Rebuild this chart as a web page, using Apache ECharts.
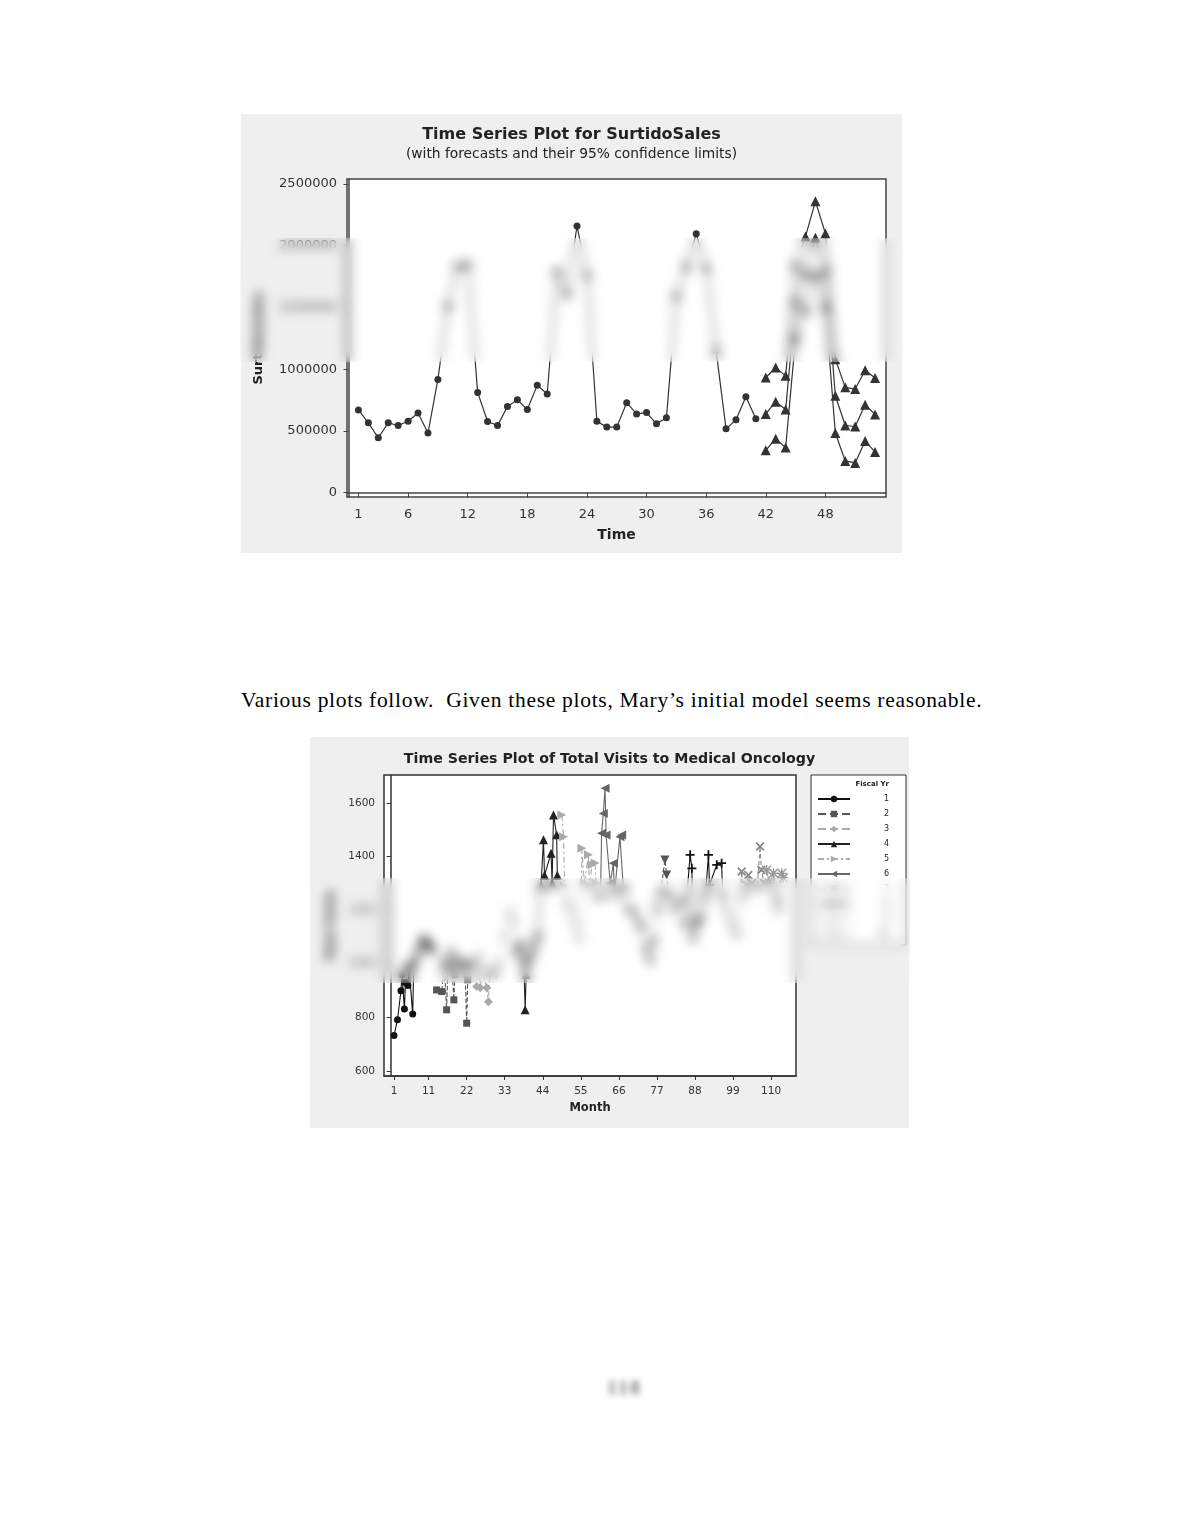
<!DOCTYPE html>
<html>
<head>
<meta charset="utf-8">
<script src="https://cdn.jsdelivr.net/npm/echarts@6/dist/echarts.min.js"></script>
<style>
body {
    margin: 0;
    width: 1180px;
    height: 1527px;
    background: #fff;
    position: relative;
    overflow: hidden;
}
#sales {
    position: absolute;
    left: 241px;
    top: 114px;
    width: 661px;
    height: 439px;
}
#visits {
    position: absolute;
    left: 310px;
    top: 737px;
    width: 599px;
    height: 391px;
}
#note {
    position: absolute;
    left: 241px;
    top: 688px;
    font-family: "Liberation Serif", serif;
    font-size: 21.5px;
    letter-spacing: 0.7px;
    line-height: 24px;
    color: #000;
    white-space: nowrap;
}
#pageno {
    position: absolute;
    left: 600px;
    top: 1378px;
    width: 50px;
    text-align: center;
    font-family: "Liberation Serif", serif;
    font-size: 18px;
    font-weight: bold;
    letter-spacing: 3px;
    color: #666;
}
.blur {
    position: absolute;
    backdrop-filter: blur(6px);
    -webkit-backdrop-filter: blur(6px);
    background: rgba(255, 255, 255, 0.05);
}
</style>
</head>
<body>
<div id="sales"></div>
<div id="note">Various plots follow.&nbsp; Given these plots, Mary’s initial model seems reasonable.</div>
<div id="visits"></div>
<div id="pageno">118</div>
<div class="blur" style="left:240px;top:238px;width:663px;height:124px;"></div>
<div class="blur" style="left:310px;top:878px;width:600px;height:105px;"></div>
<div class="blur" style="left:598px;top:1376px;width:54px;height:26px;backdrop-filter:blur(3px);-webkit-backdrop-filter:blur(3px);"></div>
<script>
// SurtidoSales, periods 1..41
var salesActual = [670000, 566000, 445000, 566000, 544000, 579000, 646000, 483000, 917000, 1509000,
    1831000, 1845000, 812000, 577000, 544000, 697000, 753000, 673000, 871000, 799000,
    1791000, 1603000, 2160000, 1760000, 579000, 531000, 531000, 729000, 638000, 649000,
    558000, 606000, 1590000, 1830000, 2097000, 1818000, 1150000, 517000, 590000, 777000,
    598000];
// forecasts, periods 42..53
var forecastStart = 42;
var salesForecast = [638000, 737000, 673000, 1550000, 1780000, 2064000, 1804000, 785000, 544000, 536000, 713000, 633000];
var salesLower = [343000, 437000, 365000, 1255000, 1485000, 1769000, 1509000, 483000, 257000, 241000, 418000, 330000];
var salesUpper = [933000, 1013000, 946000, 1845000, 2075000, 2359000, 2099000, 1080000, 853000, 839000, 992000, 928000];
var timeTicks = [1, 6, 12, 18, 24, 30, 36, 42, 48];
var salesTicks = [0, 500000, 1000000, 1500000, 2000000, 2500000];

// Total visits by month, one array per fiscal year: [month, visits]
var fy1 = [[1, 732], [2, 791], [3, 899], [3.3, 960], [4, 831], [4.3, 930], [5, 919], [5.3, 990], [6.4, 812], [6.7, 1000], [8, 1040], [9, 1080], [10, 1090], [11, 1070], [12, 1050]];
var fy2 = [[13.3, 902], [14.8, 896], [15.5, 1000], [16.2, 828], [16.6, 990], [17.5, 1040], [18.3, 865], [18.6, 960], [19.5, 1010], [20.5, 1000], [21.5, 990], [22, 778], [22.3, 940], [23.5, 1000]];
var fy3 = [[24.9, 915], [25.5, 1030], [25.9, 910], [26.5, 975], [27.8, 910], [28.3, 858], [28.6, 960], [29.5, 980], [30.5, 960], [31.5, 1000], [33, 1100], [34.5, 1193], [35.5, 1150]];
var fy4 = [[36.5, 1050], [37.5, 1080], [38.5, 1010], [38.9, 828], [39.2, 960], [40.5, 1030], [41.5, 1070], [42.5, 1110], [43.5, 1294], [44.2, 1462], [44.5, 1330], [46.4, 1412], [46.7, 1300], [47.1, 1555], [48, 1481], [48.2, 1330]];
var fy5 = [[49.5, 1555], [50, 1474], [50.3, 1290], [51.5, 1230], [52.5, 1200], [53.5, 1150], [55, 1096], [55.3, 1431], [56, 1300], [57.2, 1406], [57.5, 1290], [58.2, 1369], [59.1, 1376], [59.4, 1300], [60, 1250]];
var fy6 = [[60.7, 1250], [61, 1487], [61.5, 1560], [62, 1655], [62.3, 1480], [63.5, 1300], [64.4, 1375], [64.7, 1260], [66.3, 1474], [66.8, 1480], [67.3, 1280], [68.5, 1200], [70, 1193], [71.5, 1150]];
var fy7 = [[72.5, 1130], [74, 1050], [75, 1007], [76, 1080], [77, 1200], [78, 1257], [79.3, 1387], [79.8, 1331], [80.5, 1250], [82, 1200], [84, 1230]];
var fy8 = [[85, 1150], [86.6, 1406], [87.1, 1356], [87.4, 1096], [88.5, 1150], [89.5, 1171], [91, 1250], [91.9, 1406], [92.2, 1294], [94.3, 1369], [95.7, 1375], [96, 1250]];
var fy9 = [[97, 1200], [98.5, 1150], [100, 1107], [101.5, 1344], [102, 1250], [103, 1294], [103.4, 1331], [104.5, 1300], [106, 1280], [106.8, 1437], [107.2, 1350], [108, 1300]];
var fy10 = [[108.7, 1350], [109.5, 1300], [110.7, 1337], [111.5, 1250], [112, 1208], [113.1, 1337], [113.5, 1320]];
var fiscalYears = ['1', '2', '3', '4', '5', '6', '7', '8', '9', '10'];
var monthTicks = [1, 11, 22, 33, 44, 55, 66, 77, 88, 99, 110];
var visitTicks = [600, 800, 1000, 1200, 1400, 1600];

var font = 'DejaVu Sans';
var ink = '#333';
function plain(v) { return String(v); }

// ---- top chart ----
var sales = echarts.init(document.getElementById('sales'));
var actualData = salesActual.map(function (v, i) { return [i + 1, v]; });
function fc(arr) {
    return arr.map(function (v, i) { return [forecastStart + i, v]; });
}
function fcSeries(name, arr) {
    return {
        name: name,
        type: 'line',
        data: fc(arr),
        symbol: 'triangle',
        symbolSize: 10,
        itemStyle: { color: ink },
        lineStyle: { color: ink, width: 1.2 }
    };
}
sales.setOption({
    backgroundColor: '#efefef',
    animation: false,
    title: {
        text: 'Time Series Plot for SurtidoSales',
        subtext: '(with forecasts and their 95% confidence limits)',
        left: 'center',
        top: 8,
        itemGap: 4,
        textStyle: { fontFamily: font, fontSize: 16, fontWeight: 'bold', color: '#222' },
        subtextStyle: { fontFamily: font, fontSize: 13.8, color: '#222' }
    },
    grid: {
        left: 106, right: 16, top: 65, bottom: 56,
        show: true, backgroundColor: '#fff', borderColor: '#444', borderWidth: 1.5
    },
    xAxis: {
        type: 'value',
        min: -0.15,
        max: 54.1,
        name: 'Time',
        nameLocation: 'middle',
        nameGap: 31,
        nameTextStyle: { fontFamily: font, fontSize: 14, fontWeight: 'bold', color: '#222' },
        axisLine: { lineStyle: { color: '#444', width: 1.5 } },
        axisTick: { customValues: timeTicks, length: 5, lineStyle: { color: '#444' } },
        axisLabel: { customValues: timeTicks, fontFamily: font, fontSize: 13, color: '#333', margin: 11 },
        splitLine: { show: false }
    },
    yAxis: {
        type: 'value',
        min: -34800,
        max: 2540000,
        name: 'SurtidoSales',
        nameLocation: 'middle',
        nameGap: 82,
        nameTextStyle: { fontFamily: font, fontSize: 13, fontWeight: 'bold', color: '#222' },
        axisLine: { show: true, lineStyle: { color: '#444', width: 1.5 } },
        axisTick: { show: true, customValues: salesTicks, length: 5, lineStyle: { color: '#444' } },
        axisLabel: { customValues: salesTicks, formatter: plain, fontFamily: font, fontSize: 13, color: '#333', margin: 10 },
        splitLine: { show: false }
    },
    series: [
        {
            name: 'SurtidoSales',
            type: 'line',
            data: actualData,
            symbol: 'circle',
            symbolSize: 7,
            itemStyle: { color: ink },
            lineStyle: { color: ink, width: 1.2 }
        },
        fcSeries('Forecast', salesForecast),
        fcSeries('Lower', salesLower),
        fcSeries('Upper', salesUpper)
    ]
});

// ---- bottom chart ----
var visits = echarts.init(document.getElementById('visits'));
var yearData = [fy1, fy2, fy3, fy4, fy5, fy6, fy7, fy8, fy9, fy10];
var yearStyle = [
    { color: '#111', symbol: 'circle', size: 7, type: 'solid' },
    { color: '#555', symbol: 'rect', size: 7, type: 'dashed' },
    { color: '#aaa', symbol: 'diamond', size: 9, type: 'dashed' },
    { color: '#222', symbol: 'triangle', size: 9, type: 'solid' },
    { color: '#aaa', symbol: 'path://M0,0L10,5L0,10Z', size: 9, type: [6, 3, 2, 3] },
    { color: '#666', symbol: 'path://M10,0L0,5L10,10Z', size: 9, type: 'solid' },
    { color: '#555', symbol: 'path://M0,0L10,0L5,10Z', size: 9, type: 'dashed' },
    { color: '#111', symbol: 'path://M4,0H6V4H10V6H6V10H4V6H0V4H4Z', size: 9, type: 'solid' },
    { color: '#888', symbol: 'path://M1.4,0L5,3.6L8.6,0L10,1.4L6.4,5L10,8.6L8.6,10L5,6.4L1.4,10L0,8.6L3.6,5L0,1.4Z', size: 9, type: 'dashed' },
    { color: '#999', symbol: 'path://M4.3,0H5.7V4.3H10V5.7H5.7V10H4.3V5.7H0V4.3H4.3Z M1,0L5,4L9,0L10,1L6,5L10,9L9,10L5,6L1,10L0,9L4,5L0,1Z', size: 10, type: 'solid' }
];
var visitSeries = fiscalYears.map(function (name, i) {
    var s = yearStyle[i];
    return {
        name: name,
        type: 'line',
        data: yearData[i],
        symbol: s.symbol,
        symbolSize: s.size,
        itemStyle: { color: s.color },
        lineStyle: { color: s.color, width: 1.1, type: s.type }
    };
});
visits.setOption({
    backgroundColor: '#efefef',
    animation: false,
    title: {
        text: 'Time Series Plot of Total Visits to Medical Oncology',
        left: 'center',
        top: 10,
        textStyle: { fontFamily: font, fontSize: 14.2, fontWeight: 'bold', color: '#222' }
    },
    legend: {
        data: fiscalYears,
        orient: 'vertical',
        left: 501,
        top: 38,
        padding: [20, 17, 7, 6],
        itemWidth: 32,
        itemHeight: 8,
        itemGap: 7,
        selectedMode: false,
        backgroundColor: '#fff',
        borderColor: '#333',
        borderWidth: 1,
        formatter: function (name) { return '{n|' + name + '}'; },
        textStyle: {
            color: '#222',
            rich: { n: { fontFamily: font, fontSize: 8, color: '#222', width: 34, align: 'right' } }
        }
    },
    graphic: [{
        type: 'text',
        right: 20,
        top: 44,
        z: 100,
        zlevel: 1,
        style: { text: 'Fiscal Yr', fontFamily: font, fontSize: 7, fontWeight: 'bold', fill: '#222' }
    }],
    grid: {
        left: 74, right: 113, top: 38, bottom: 52,
        show: true, backgroundColor: '#fff', borderColor: '#333', borderWidth: 1.5
    },
    xAxis: {
        type: 'value',
        min: -1.9,
        max: 117.2,
        name: 'Month',
        nameLocation: 'middle',
        nameGap: 26,
        nameTextStyle: { fontFamily: font, fontSize: 11.5, fontWeight: 'bold', color: '#222' },
        axisLine: { lineStyle: { color: '#333', width: 1.5 } },
        axisTick: { customValues: monthTicks, length: 4, lineStyle: { color: '#333' } },
        axisLabel: { customValues: monthTicks, fontFamily: font, fontSize: 10.5, color: '#333', margin: 10 },
        splitLine: { show: false }
    },
    yAxis: {
        type: 'value',
        min: 581,
        max: 1704,
        name: 'Total Visits',
        nameLocation: 'middle',
        nameGap: 46,
        nameTextStyle: { fontFamily: font, fontSize: 11.5, fontWeight: 'bold', color: '#222' },
        axisLine: { show: true, lineStyle: { color: '#333', width: 1.5 } },
        axisTick: { show: true, customValues: visitTicks, length: 4, lineStyle: { color: '#333' } },
        axisLabel: { customValues: visitTicks, formatter: plain, fontFamily: font, fontSize: 10.5, color: '#333', margin: 9 },
        splitLine: { show: false }
    },
    series: visitSeries
});
</script>
</body>
</html>
